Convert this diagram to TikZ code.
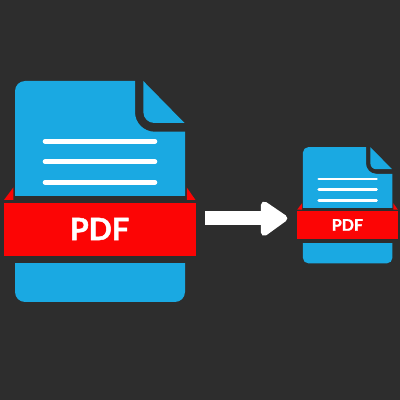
\documentclass[tikz,border=0pt]{standalone}
\usepackage{fontspec}
\setmainfont{Lato}[BoldFeatures={FakeBold=1.6}]
\definecolor{bgdark}{HTML}{2D2D2D}
\definecolor{docblue}{HTML}{1AA9E2}
\definecolor{bandred}{HTML}{FC0505}
\newcommand{\pdfdoc}[5]{%
  \begin{scope}[shift={(#1,#2)},scale=#3]
    % sheet
    \fill[docblue] (25,319) -- (135,319) -- (135,287.9) arc[start angle=180,end angle=270,radius=19.6]
      -- (185,268.3) -- (185,108) arc[start angle=0,end angle=-90,radius=10]
      -- (25,98) arc[start angle=270,end angle=180,radius=10]
      -- (15,309) arc[start angle=180,end angle=90,radius=10] -- cycle;
    % folded corner
    \fill[docblue] (143.3,319) -- (184.5,277) -- (154.3,277)
      arc[start angle=270,end angle=180,radius=11] -- cycle;
    % text lines
    \draw[white,line width=#5,line cap=round] (45,258.7) -- (155,258.7);
    \draw[white,line width=#5,line cap=round] (45,238.3) -- (155,238.3);
    \draw[white,line width=#5,line cap=round] (45,217.7) -- (155,217.7);
    % gap and ribbon
    \fill[bgdark] (4,137.3) rectangle (195.5,204);
    \fill[bandred] (4,144) rectangle (195.5,197.3);
    \fill[bandred] (13.3,212.5) -- (13.3,200) -- (4,200) -- cycle;
    \fill[bandred] (186.8,212.5) -- (186.8,200) -- (195.5,200) -- cycle;
    \node[transform shape,text=white,font=\fontsize{30.5}{30.5}\selectfont\bfseries,inner sep=0pt] (#4) at (99.5,171) {PDF};
  \end{scope}}
\begin{document}
\begin{tikzpicture}[x=1pt,y=1pt]
  \useasboundingbox (0,0) rectangle (400,400);
  \fill[bgdark] (0,0) rectangle (400,400);
  \pdfdoc{0}{0}{1}{pdfbig}{4.6pt}
  \pdfdoc{295.1}{85.2}{0.5255}{pdfsmall}{2.7pt}
  % arrow
  \fill[white] (205,175) rectangle (266,189.3);
  \filldraw[white,line width=7pt,line join=round] (264.3,195) -- (264.3,167.6) -- (283.8,181.7) -- cycle;
\end{tikzpicture}
\end{document}
